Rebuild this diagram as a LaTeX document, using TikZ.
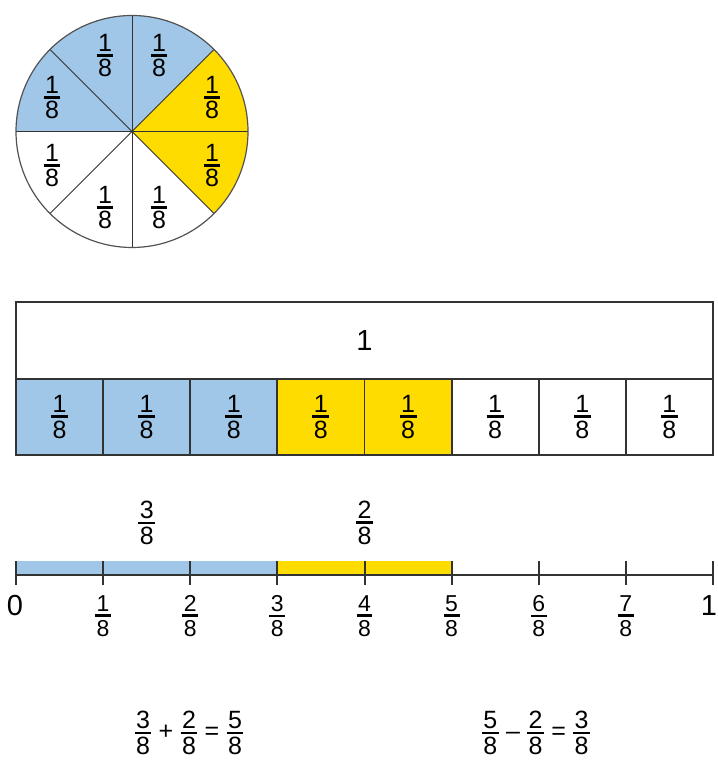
\RequirePackage{fix-cm}
\documentclass[tikz,border=0pt]{standalone}
\usepackage{fontspec}
\setmainfont{Liberation Sans}
\usepackage{amsmath}
\definecolor{partblue}{HTML}{A0C6E8}
\definecolor{partyellow}{HTML}{FFDC00}
\definecolor{edge}{HTML}{333333}
\newcommand{\fr}[2]{\ensuremath{\genfrac{}{}{2.8pt}{1}{\mbox{\kern1.5pt#1\kern1.5pt}}{\mbox{\kern1.5pt#2\kern1.5pt}}}}
\newcommand{\op}[1]{\mathbin{\mbox{\kern0.5pt#1\kern0.5pt}}}
\begin{document}
\begin{tikzpicture}[x=1pt,y=1pt,
		frac/.style={font=\fontsize{25}{29}\selectfont,inner sep=0pt},
		smallfrac/.style={font=\fontsize{23}{27}\selectfont,inner sep=0pt},
		big/.style={font=\fontsize{29}{34}\selectfont,inner sep=0pt},
		cell/.style={draw=edge,line width=1.8pt,outer sep=0pt,frac}]
			\useasboundingbox (0,0) rectangle (717,762);
			% pie
			\coordinate (O) at (132,630.5);
			\fill[partblue] (O) -- ++(45:116) arc[start angle=45,end angle=180,radius=116] -- cycle;
			\fill[partyellow] (O) -- ++(-45:116) arc[start angle=-45,end angle=45,radius=116] -- cycle;
			\foreach \a in {0,45,...,315}
				\draw[edge,line width=1pt] (O) -- ++(\a:116);
			\draw[edge!85,line width=1.2pt] (O) circle[radius=116];
			\foreach \dx/\dy/\n in {80/34/1,27/76/2,-27/76/3,-80/34/4,-80/-34/5,-27/-76/6,27/-76/7,80/-34/8}
				\node[frac] (p\n) at ([shift={(\dx,\dy)}]O) {\fr{1}{8}};
			% bar
			\node[cell,big,minimum width=697pt,minimum height=77pt] (whole) at (364.5,421.5) {1};
			\foreach \i/\c in {1/partblue,2/partblue,3/partblue,4/partyellow,5/partyellow,6/white,7/white,8/white}
				\node[cell,fill=\c,minimum width=87.125pt,minimum height=76pt] (c\i) at (16+87.125*\i-43.5625,345) {\fr{1}{8}};
			% number line
			\coordinate (n0) at (16,187);
			\coordinate (n3) at (277.375,201);
			\coordinate (n5) at (451.625,201);
			\coordinate (n8) at (713,187);
			\fill[partblue] (n0) rectangle (n3);
			\fill[partyellow] (n3|-n0) rectangle (n5);
			\draw[edge,line width=2pt] (n0) -- (n8);
			\foreach \i in {0,...,8}
				\draw[edge,line width=2pt] (16+87.125*\i,177) -- ++(0,24);
			\node[big] (l0) at (15,156) {0};
			\node[big] (l8) at (709,156) {1};
			\foreach \i in {1,...,7}
				\node[smallfrac] (l\i) at (16+87.125*\i,146) {\fr{\i}{8}};
			\node[frac] (add) at (146.7,239) {\fr{3}{8}};
			\node[frac] (more) at (364.5,239) {\fr{2}{8}};
			% sums
			\node[frac] (sum) at (189,29) {$\fr{3}{8}\op{+}\fr{2}{8}\op{=}\fr{5}{8}$};
			\node[frac] (diff) at (536,29) {$\fr{5}{8}\op{--}\fr{2}{8}\op{=}\fr{3}{8}$};
		\end{tikzpicture}
\end{document}
